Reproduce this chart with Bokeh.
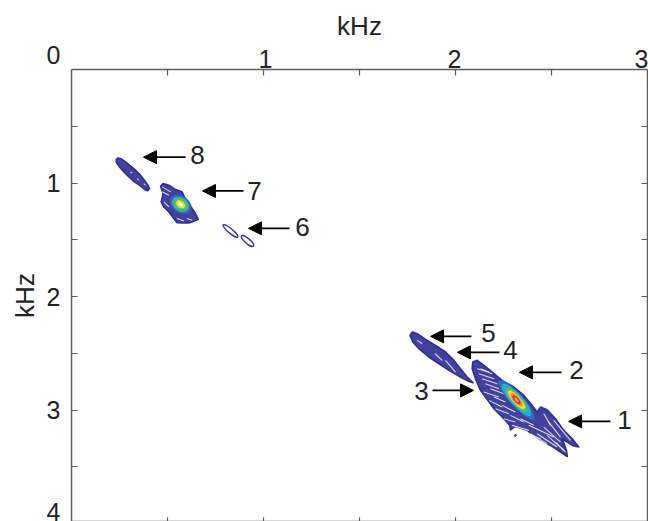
from bokeh.plotting import figure
from bokeh.models import Range1d, LinearAxis, FixedTicker, Label, Arrow, NormalHead, Title
from bokeh.embed import file_html
from bokeh.resources import INLINE

FONT = "Liberation Sans"
TICKS = [0.5, 1, 1.5, 2, 2.5, 3, 3.5]
XTICKS = [0.5, 1, 1.5, 2, 2.5]
TOP_TEXT = {1.01: "1", 1.995: "2", 2.97: "3"}
LEFT_TEXT = {1: "1", 2: "2", 3: "3", 3.9: "4"}
CORNER_TEXT = "0"

# outer contour outlines, kHz
blob_x = [
    [1.763,1.775,1.801,1.844,1.896,1.948,1.992,2.026,2.061,2.092,2.070,2.026,1.966,1.914,1.862,1.809,1.778],
    [2.090,2.113,2.148,2.191,2.243,2.304,2.356,2.399,2.425,2.443,2.477,2.521,2.564,2.608,2.642,2.608,2.556,2.578,2.582,2.547,2.495,2.434,2.373,2.312,2.286,2.283,2.252,2.200,2.156,2.130,2.104,2.087],
    [.233,.241,.259,.281,.307,.333,.359,.382,.398,.406,.398,.384,.359,.328,.299,.273,.250,.234],
    [.464,.477,.507,.542,.576,.594,.620,.646,.660,.637,.611,.576,.550,.533,.507,.481,.467,.477],
]
blob_y = [
    [2.342,2.313,2.327,2.377,2.430,2.489,2.563,2.636,2.710,2.760,2.748,2.710,2.651,2.592,2.533,2.460,2.401],
    [2.577,2.562,2.606,2.665,2.739,2.797,2.871,2.959,3.018,2.974,2.997,3.077,3.179,3.253,3.326,3.312,3.253,3.356,3.409,3.371,3.312,3.253,3.179,3.144,3.174,3.135,3.077,2.988,2.886,2.827,2.724,2.636],
    [.793,.781,.787,.814,.849,.887,.931,.981,1.019,1.049,1.067,1.061,1.025,.990,.946,.902,.858,.820],
    [1.028,1.005,1.019,1.058,1.078,1.146,1.205,1.269,1.319,1.337,1.352,1.352,1.349,1.313,1.255,1.210,1.166,1.093],
]
# gaps between the contour lines
gap_x = [[2.113,2.174],[2.121,2.200],[2.139,2.217],[2.156,2.226],[2.148,2.226],[2.174,2.243],[2.208,2.278],[2.252,2.312],
         [2.295,2.382],[2.330,2.443],[2.382,2.512],[2.425,2.529],[2.477,2.564],[2.460,2.495],[2.486,2.547],
         [2.130,2.191],[2.182,2.252],[2.200,2.260],[2.243,2.312],[2.286,2.356],[2.338,2.408],[2.391,2.477],[2.460,2.547],[2.512,2.599],[2.521,2.573],
         [1.893,1.931],[1.801,1.827],[1.948,2.000],
         [.307,.316],[.342,.351],[.377,.385],
         [.472,.516],[.472,.507],[.550,.585],[.602,.629],[.481,.507]]
gap_y = [[2.636,2.665],[2.680,2.724],[2.724,2.768],[2.768,2.812],[2.841,2.886],[2.915,2.974],[2.988,3.032],[3.077,3.106],
         [3.135,3.179],[3.179,3.253],[3.135,3.238],[3.209,3.326],[3.224,3.356],[3.032,3.135],[3.106,3.238],
         [2.636,2.680],[2.812,2.856],[2.886,2.930],[2.959,3.018],[3.047,3.106],[3.077,3.135],[3.209,3.297],[3.150,3.282],[3.091,3.268],[3.282,3.371],
         [2.504,2.563],[2.386,2.416],[2.563,2.666],
         [.902,.911],[.961,.975],[1.005,1.019],
         [1.034,1.078],[1.078,1.108],[1.313,1.334],[1.313,1.328],[1.166,1.210]]

# contour rings around the two maxima
ring_x = [2.318]*7 + [.568]*5
ring_y = [2.91]*7 + [1.188]*5
ring_major = [52,42,31,24,17,11,6, 24,19,15,10,5]
ring_minor = [13,12,10,8,6.5,4.5,2.5, 17,14,11,7,3]
ring_angle = [-48]*7 + [-35]*5
ring_color = ["#2f6fb8","#22b0c8","#5cbd5a","#f0e030","#f28c28","#d9302c","#e8a8a0",
              "#3a5fb0","#22b0c8","#5cbd5a","#f0e030","#ffffff"]

# peak 6: two small closed contours
small_x = [.828, .917]
small_y = [1.422, 1.511]
small_major = [19, 16]
small_minor = [4.5, 5]

# isolated contour speck
speck_x = [2.312]
speck_y = [3.224]

arrow_tail_x = [.594,.896,1.135,2.083,2.229,2.552,1.880,2.807]
arrow_tip_x = [.375,.682,.922,1.870,2.010,2.333,2.094,2.589]
arrow_y = [.772,1.070,1.399,2.351,2.492,2.668,2.827,3.100]
peak_names = ["8","7","6","5","4","2","3","1"]
name_x = [.656,.953,1.203,2.172,2.286,2.630,1.823,2.880]
name_y = [.755,1.068,1.389,2.324,2.474,2.651,2.836,3.092]

AXIS = "#5f5f5f"
BLUE = "#2f2c96"
INK = "#222222"

p = figure(width=648, height=521, output_backend="svg", toolbar_location=None,
           x_range=Range1d(0, 3), y_range=Range1d(3.982, 0),
           x_axis_location="above", y_axis_location="left",
           min_border_left=71, min_border_right=1, min_border_top=69, min_border_bottom=0)
p.grid.visible = False
p.outline_line_color = None
p.background_fill_color = "white"

def marks(ax, ticks=TICKS, tick_in=6):
    ax.ticker = FixedTicker(ticks=ticks)
    ax.minor_tick_line_color = None
    ax.major_tick_in = tick_in
    ax.major_tick_out = 0
    ax.axis_line_color = AXIS
    ax.axis_line_width = 1.5
    ax.major_tick_line_color = AXIS
    ax.major_tick_line_width = 1.2
    ax.major_label_text_font_size = "0px"
    ax.major_label_standoff = 0
    ax.major_label_overrides = {t: "" for t in ticks}

def text_only(ax, labels, title, label_standoff, title_standoff):
    ax.ticker = FixedTicker(ticks=list(labels))
    ax.minor_tick_line_color = None
    ax.major_tick_in = 0
    ax.major_tick_out = 0
    ax.axis_line_color = None
    ax.major_tick_line_color = None
    ax.major_label_overrides = labels
    ax.major_label_text_font = FONT
    ax.major_label_text_font_size = "25px"
    ax.major_label_text_color = INK
    ax.major_label_standoff = label_standoff
    ax.axis_label = title
    ax.axis_label_standoff = title_standoff
    ax.axis_label_text_font = FONT
    ax.axis_label_text_font_size = "26px"
    ax.axis_label_text_font_style = "normal"
    ax.axis_label_text_color = INK

marks(p.xaxis[0], XTICKS + [3])
marks(p.yaxis[0])
top_text = LinearAxis()
text_only(top_text, TOP_TEXT, "kHz", 2, 6)
p.add_layout(top_text, "above")
left_text = LinearAxis()
text_only(left_text, LEFT_TEXT, "kHz", 11, 4)
left_text.major_label_orientation = "horizontal"
p.add_layout(left_text, "left")
right = LinearAxis()
marks(right)
p.add_layout(right, "right")
bottom = LinearAxis()
marks(bottom, XTICKS, 4)
p.add_layout(bottom, "below")

p.add_layout(Title(text=CORNER_TEXT, align="left", offset=-25, standoff=-112, text_font=FONT,
                   text_font_size="25px", text_font_style="normal", text_color=INK), "above")

p.patches(blob_x, blob_y, fill_color=BLUE, fill_alpha=0.9, line_color=BLUE, line_width=1.6, line_join="round")
p.multi_line(gap_x, gap_y, line_color="white", line_width=1.1, line_alpha=0.8)
p.ellipse(ring_x, ring_y, width=ring_major, height=ring_minor, angle=ring_angle, angle_units="deg",
          width_units="screen", height_units="screen", fill_color=ring_color, line_color=None)
p.ellipse(small_x, small_y, width=small_major, height=small_minor, angle=-40, angle_units="deg",
          width_units="screen", height_units="screen", fill_color=None, line_color="#3835a8", line_width=1.4)
p.scatter(speck_x, speck_y, size=2, color="#3835a8")

for tx, tp, yy in zip(arrow_tail_x, arrow_tip_x, arrow_y):
    p.add_layout(Arrow(x_start=tx, y_start=yy, x_end=tp, y_end=yy, line_color="black", line_width=1.8,
                       end=NormalHead(size=13, fill_color="black", line_color="black")))

for t, xx, yy in zip(peak_names, name_x, name_y):
    p.add_layout(Label(x=xx, y=yy, text=t, text_font=FONT, text_font_size="26px", text_color=INK,
                       text_align="center", text_baseline="middle"))

open("out.html", "w").write(file_html(p, INLINE))
